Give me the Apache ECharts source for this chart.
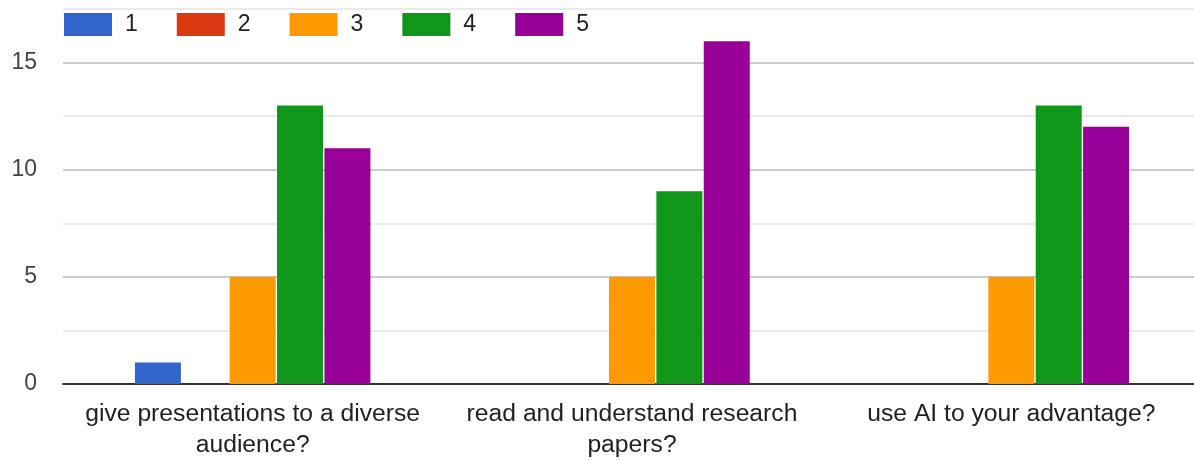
<!DOCTYPE html>
<html>
<head>
<meta charset="utf-8">
<script src="https://cdn.jsdelivr.net/npm/echarts@6/dist/echarts.min.js"></script>
<style>
  html, body { margin: 0; padding: 0; background: #ffffff; overflow: hidden; }
  /* the plot runs slightly past the right edge of the window */
  #chart { width: 1201px; height: 460px; }
</style>
</head>
<body>
<div id="chart"></div>
<script>
// Survey questions (one group of bars each)
const categories = [
  'give presentations to a diverse audience?',
  'read and understand research papers?',
  'use AI to your advantage?'
];

// Rating levels shown in the legend
const ratingNames = ['1', '2', '3', '4', '5'];

// Number of responses per rating, one array per rating level
const rating1 = [1, 0, 0];
const rating2 = [0, 0, 0];
const rating3 = [5, 5, 5];
const rating4 = [13, 9, 13];
const rating5 = [11, 16, 12];

const ratingValues = [rating1, rating2, rating3, rating4, rating5];
const ratingColors = ['#3366cc', '#dc3912', '#ff9900', '#109618', '#990099'];

const FONT = '"Liberation Sans", Arial, sans-serif';
const LABEL_SIZE = 24.7;
const LABEL_WRAP = 365;

// Word-wrap a category label so no line carries a trailing space
const measureCtx = document.createElement('canvas').getContext('2d');
measureCtx.font = LABEL_SIZE + 'px ' + FONT;
function wrapLabel(text) {
  const words = text.split(' ');
  const lines = [];
  let line = '';
  words.forEach(function (w) {
    const trial = line ? line + ' ' + w : w;
    if (line && measureCtx.measureText(trial).width > LABEL_WRAP) {
      lines.push(line);
      line = w;
    } else {
      line = trial;
    }
  });
  if (line) lines.push(line);
  return lines.join('\n');
}

const chart = echarts.init(document.getElementById('chart'), null, { renderer: 'canvas' });

chart.setOption({
  animation: false,
  textStyle: { fontFamily: FONT },
  legend: {
    left: 64,
    top: 13,
    padding: 0,
    icon: 'rect',
    itemWidth: 48,
    itemHeight: 23,
    itemGap: 39,
    data: ratingNames,
    textStyle: {
      fontFamily: FONT,
      fontSize: 23,
      color: '#222222',
      padding: [0, 0, 0, 8]
    }
  },
  grid: {
    left: 63,
    right: 0,
    top: 9,
    bottom: 76,
    outerBoundsMode: 'none',
    containLabel: false
  },
  xAxis: {
    type: 'category',
    data: categories,
    axisTick: { show: false },
    axisLine: { lineStyle: { color: '#333333', width: 2 } },
    axisLabel: {
      interval: 0,
      fontFamily: FONT,
      fontSize: LABEL_SIZE,
      color: '#222222',
      lineHeight: 31,
      margin: 15,
      formatter: wrapLabel
    }
  },
  yAxis: {
    type: 'value',
    min: 0,
    max: 17.5,
    interval: 2.5,
    axisLine: { show: false },
    axisTick: { show: false },
    axisLabel: {
      fontFamily: FONT,
      fontSize: 23,
      color: '#444444',
      margin: 26,
      formatter: function (v) { return v % 5 === 0 ? String(v) : ''; }
    },
    splitLine: {
      lineStyle: { color: ['#cccccc', '#ebebeb'], width: 2 }
    }
  },
  series: ratingNames.map(function (name, i) {
    return {
      name: name,
      type: 'bar',
      data: ratingValues[i],
      barWidth: 46,
      barGap: '3%',
      itemStyle: { color: ratingColors[i] }
    };
  })
});
</script>
</body>
</html>
